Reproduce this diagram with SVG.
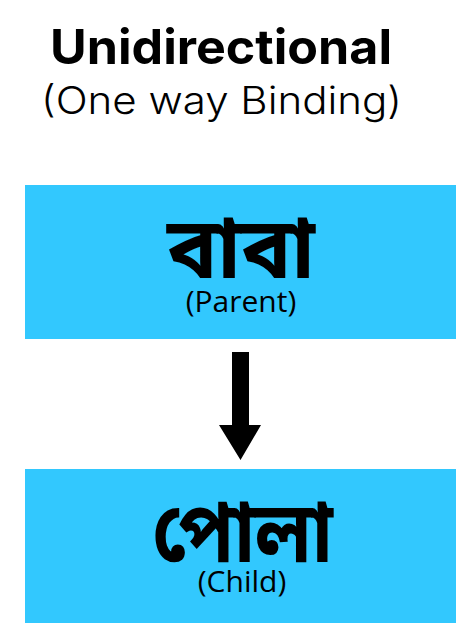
<svg xmlns="http://www.w3.org/2000/svg" width="474" height="644" viewBox="0 0 474 644">
<style>
.box{fill:#32c8fe}
.bn{font-family:"Noto Sans Bengali","Noto Serif Bengali","Lohit Bengali","Noto Sans",sans-serif;font-weight:700;font-size:86px;fill:#000;text-anchor:middle}
.sub{font-family:"Open Sans","Noto Sans",sans-serif;font-size:30px;fill:#000;text-anchor:middle}
</style>
<rect width="474" height="644" fill="#fff"/>
<g id="title">
<text x="221" y="64" font-family="Inter,'Liberation Sans',sans-serif" font-weight="700" font-size="48" text-anchor="middle" textLength="342" lengthAdjust="spacingAndGlyphs">Unidirectional</text>
<text x="221.5" y="114" font-family="Inter,'Open Sans',sans-serif" font-weight="300" font-size="38" text-anchor="middle" textLength="361" lengthAdjust="spacingAndGlyphs">(One way Binding)</text>
</g>
<g id="parent">
<rect class="box" x="25" y="185" width="431" height="154"/>
<text class="bn" x="241" y="278" textLength="148" lengthAdjust="spacingAndGlyphs">বাবা</text>
<text class="sub" x="241" y="312">(Parent)</text>
</g>
<g id="child">
<rect class="box" x="25" y="469" width="431" height="154"/>
<text class="bn" x="242.5" y="562" textLength="181" lengthAdjust="spacingAndGlyphs">পোলা</text>
<text class="sub" x="242" y="592">(Child)</text>
</g>
<g id="connectors">
<polygon points="232,352 249,352 249,425 261,425 240.5,460 219,425 232,425" fill="#000"/>
</g>
</svg>
